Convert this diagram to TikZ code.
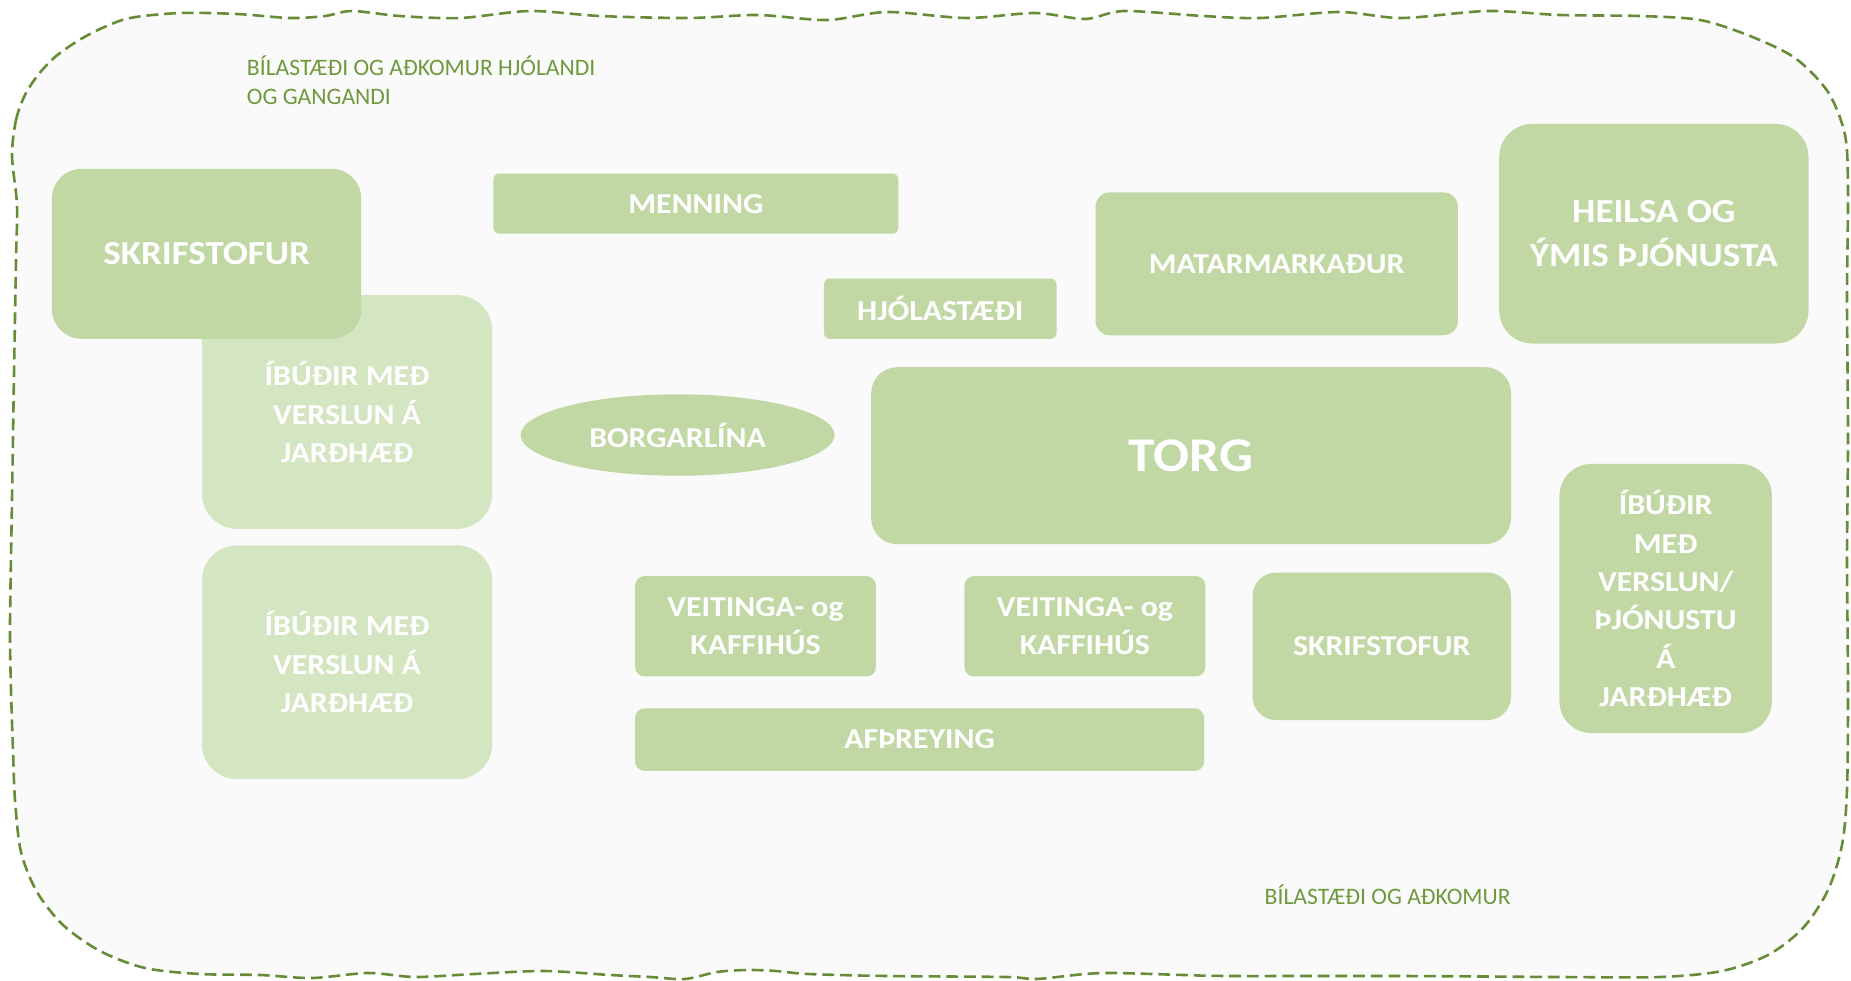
\documentclass[tikz,border=0pt]{standalone}
\usepackage{fontspec}
\setmainfont{Carlito}
\newfontfamily\zonefamily{Carlito}[FakeStretch=1.1]
\usetikzlibrary{positioning,shapes.geometric}

\definecolor{zonegreen}{RGB}{193,216,164}
\definecolor{zonelight}{RGB}{212,229,193}
\definecolor{textgreen}{RGB}{112,153,62}
\definecolor{edgegreen}{RGB}{103,140,55}
\definecolor{sitegrey}{RGB}{250,250,250}

\begin{document}
\begin{tikzpicture}[x=1pt,y=-1pt,
	zone/.style={rectangle, fill=zonegreen, text=white, align=center, inner sep=0pt, outer sep=0pt, font=\zonefamily\bfseries\fontsize{24.5}{32.5}\selectfont},
	lightzone/.style={zone, fill=zonelight},
	bigzone/.style={zone, font=\zonefamily\bfseries\fontsize{28.5}{37}\selectfont},
	note/.style={text=textgreen, align=left, inner sep=0pt, font=\fontsize{20}{24}\selectfont}]

	\useasboundingbox (0,0) rectangle (1568,830.2);

	% site outline
	\begin{scope}[scale=0.8471]
	\path[fill=sitegrey, draw=edgegreen, line width=2.2pt, dash pattern=on 10pt off 5pt]
		plot[smooth cycle, tension=0.5] coordinates {
		(12,156) (16,120) (25,95) (38,75) (55,57) (76,42) (100,29) (130,18) (180,13) (237,14) (290,18) (325,16) (352,11) (400,16) (460,18) (530,11) (600,16) (689,18) (758,15) (827,20) (887,12) (966,18) (1035,13) (1085,19) (1124,11) (1203,16) (1260,18) (1339,12) (1402,18) (1487,11) (1560,15) (1640,16)
		(1700,20) (1750,36) (1795,58) (1828,92) (1845,135) (1848,190) (1847,300) (1848,437) (1847,560) (1848,687) (1847,790) (1842,845) (1828,890) (1803,928) (1768,955) (1722,971) (1660,977)
		(1560,977) (1400,976) (1230,976) (1184,975) (1115,973) (1085,974) (1036,979) (1006,977) (887,976) (808,974) (776,971) (747,970) (717,972) (685,979) (650,977) (610,975) (544,971) (474,974) (415,977) (368,973) (312,978) (260,975) (200,974)
		(145,968) (100,951) (63,925) (37,892) (21,852) (15,800) (13,750) (11,690) (10,625) (12,500) (14,375) (16,260) (17,205)};
	\end{scope}

	\node[note, anchor=west] (access-north) at (209,68) {BÍLASTÆÐI OG AÐKOMUR HJÓLANDI\\OG GANGANDI};
	\node[note] (access-south) at (1175.5,758) {BÍLASTÆÐI OG AÐKOMUR};

	% west block
	\node[lightzone, minimum width=246pt, minimum height=198pt, rounded corners=30pt] (ibudir-top) at (294,349) {ÍBÚÐIR MEÐ\\VERSLUN Á\\JARÐHÆÐ};
	\node[lightzone, minimum width=246pt, minimum height=198pt, rounded corners=30pt, below = 14pt of ibudir-top] (ibudir-bottom) {ÍBÚÐIR MEÐ\\VERSLUN Á\\JARÐHÆÐ};
	\node[bigzone, minimum width=262pt, minimum height=144pt, rounded corners=25pt] (skrifstofur-west) at (175,215) {SKRIFSTOFUR};

	% middle
	\node[zone, minimum width=343pt, minimum height=51pt, rounded corners=5pt] (menning) at (589.5,172.5) {MENNING};
	\node[zone, minimum width=197pt, minimum height=51pt, rounded corners=5pt] (hjolastaedi) at (796.5,261.5) {HJÓLASTÆÐI};
	\node[zone, ellipse, minimum width=266pt, minimum height=69pt] (borgarlina) at (574,368.5) {BORGARLÍNA};
	\node[zone, minimum width=204pt, minimum height=85pt, rounded corners=8pt] (veitinga-west) at (640,530.5) {VEITINGA- og\\KAFFIHÚS};
	\node[zone, minimum width=204pt, minimum height=85pt, rounded corners=8pt, right = 75pt of veitinga-west] (veitinga-east) {VEITINGA- og\\KAFFIHÚS};
	\node[zone, minimum width=482pt, minimum height=53pt, rounded corners=8pt] (afthreying) at (779,626.5) {AFÞREYING};

	% east block
	\node[zone, minimum width=307pt, minimum height=121pt, rounded corners=12pt] (matarmarkadur) at (1081.5,223.5) {MATARMARKAÐUR};
	\node[bigzone, minimum width=262pt, minimum height=186pt, rounded corners=28pt] (heilsa) at (1401,198) {HEILSA OG\\ÝMIS ÞJÓNUSTA};
	\node[zone, minimum width=542pt, minimum height=150pt, rounded corners=22pt, font=\zonefamily\bfseries\fontsize{41}{48}\selectfont] (torg) at (1009,386) {TORG};
	\node[zone, minimum width=219pt, minimum height=125pt, rounded corners=20pt] (skrifstofur-east) at (1170.5,547.5) {SKRIFSTOFUR};
	\node[zone, minimum width=180pt, minimum height=228pt, rounded corners=27pt] (ibudir-east) at (1411,507) {ÍBÚÐIR\\MEÐ\\VERSLUN/\\ÞJÓNUSTU\\Á\\JARÐHÆÐ};

\end{tikzpicture}
\end{document}
